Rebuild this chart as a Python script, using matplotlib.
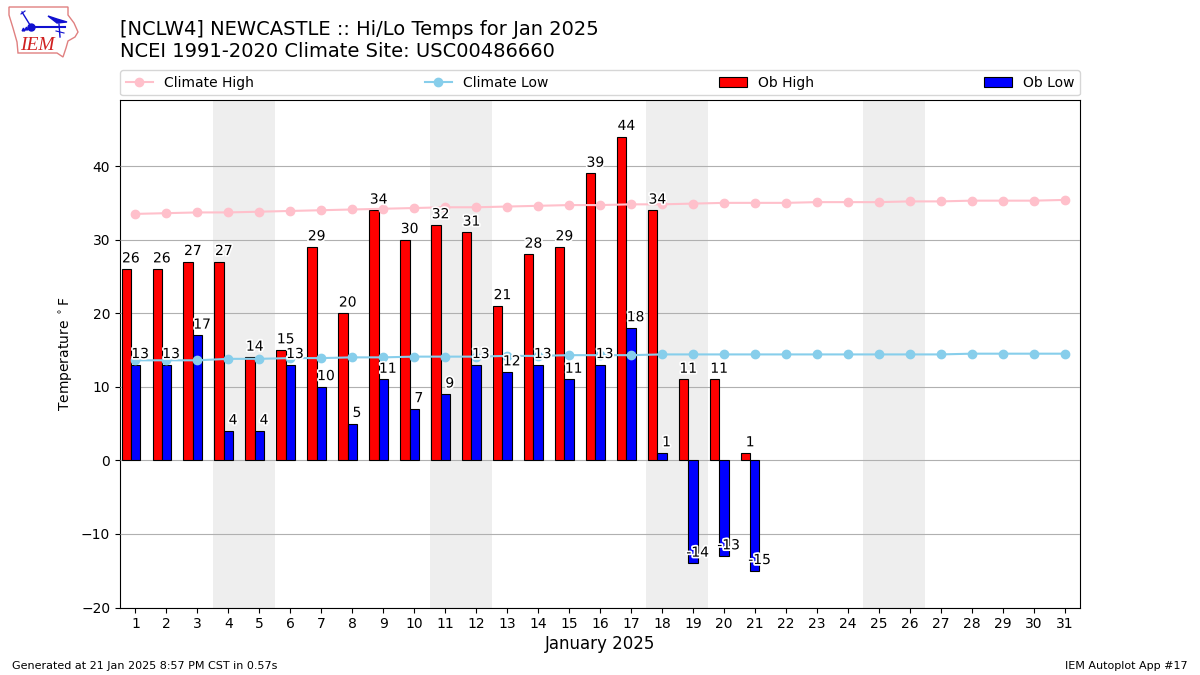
import matplotlib
matplotlib.use("Agg")
import matplotlib.pyplot as plt
import matplotlib.patheffects as PathEffects
import numpy as np

days = np.arange(1, 32)
ob_days = np.arange(1, 22)
ob_high = [26, 26, 27, 27, 14, 15, 29, 20, 34, 30, 32, 31, 21, 28, 29, 39, 44, 34, 11, 11, 1]
ob_low = [13, 13, 17, 4, 4, 13, 10, 5, 11, 7, 9, 13, 12, 13, 11, 13, 18, 1, -14, -13, -15]
climate_high = [33.5, 33.6, 33.7, 33.7, 33.8, 33.9, 34.0, 34.1, 34.2, 34.3, 34.4, 34.4, 34.5, 34.6, 34.7, 34.7,
                34.8, 34.8, 34.9, 35.0, 35.0, 35.0, 35.1, 35.1, 35.1, 35.2, 35.2, 35.3, 35.3, 35.3, 35.4]
climate_low = [13.6, 13.6, 13.6, 13.8, 13.8, 13.9, 13.9, 14.0, 14.0, 14.1, 14.1, 14.1, 14.2, 14.2, 14.3, 14.3,
               14.3, 14.4, 14.4, 14.4, 14.4, 14.4, 14.4, 14.4, 14.4, 14.4, 14.4, 14.5, 14.5, 14.5, 14.5]
weekends = [4, 11, 18, 25]

# logo shapes, in pixels from the top left of the figure
logo_outline_x = [9, 68, 68, 74, 78, 75, 68, 66, 63, 57, 18, 17, 13, 9]
logo_outline_y = [7, 7, 15, 23, 32, 37, 41, 48, 57, 53, 53, 42, 28, 15]
logo_wing_x = [48, 57, 67, 57]
logo_wing_y = [16, 19, 22, 23]

fig = plt.figure(figsize=(12, 6.75), dpi=100)
ax = fig.add_axes([120 / 1200, 1 - 607.5 / 675, 960 / 1200, 508 / 675])

for start in weekends:
    ax.axvspan(start - 0.5, start + 1.5, color="#eeeeee", lw=0, zorder=1)
ax.grid(True, axis="y", color="#b0b0b0", lw=0.8, zorder=2)
ax.set_axisbelow(False)

l1, = ax.plot(days, climate_high, color="pink", marker="o", label="Climate High", zorder=4)
l2, = ax.plot(days, climate_low, color="skyblue", marker="o", label="Climate Low", zorder=4)
b1 = ax.bar(ob_days - 0.3, ob_high, width=0.3, color="r", edgecolor="k", lw=0.8, label="Ob High", zorder=3)
b2 = ax.bar(ob_days, ob_low, width=0.3, color="b", edgecolor="k", lw=0.8, label="Ob Low", zorder=3)

outline = [PathEffects.withStroke(linewidth=2.5, foreground="white")]
for d, val in zip(ob_days, ob_high):
    ax.text(d - 0.15, val + 0.5, str(val), ha="center", va="bottom", fontsize=10,
            color="k", path_effects=outline, zorder=5)
for d, val in zip(ob_days, ob_low):
    ax.text(d + 0.15, val + 0.5, str(val), ha="center", va="bottom", fontsize=10,
            color="k", path_effects=outline, zorder=5)

ax.set_xlim(0.5, 31.5)
ax.set_ylim(-20, 49.05)
ax.set_xticks(days)
ax.set_yticks(np.arange(-20, 41, 10))
ax.tick_params(labelsize=10)
ax.set_xlabel("January 2025", fontsize=12, labelpad=3)
ax.set_ylabel(r"Temperature $^\circ$F", fontsize=10)
ax.legend(handles=[l1, l2, b1, b2], loc="lower left", bbox_to_anchor=(0, 1.008, 1, 0.05), mode="expand",
          ncol=4, borderaxespad=0, fontsize=10)

fig.text(120 / 1200, 1 - 61 / 675, "[NCLW4] NEWCASTLE :: Hi/Lo Temps for Jan 2025\nNCEI 1991-2020 Climate Site: USC00486660",
         fontsize=14, ha="left", va="bottom", linespacing=1.2)
fig.text(12 / 1200, 1 - 666 / 675, "Generated at 21 Jan 2025 8:57 PM CST in 0.57s", fontsize=8, ha="left", va="center")
fig.text(1188 / 1200, 1 - 666 / 675, "IEM Autoplot App #17", fontsize=8, ha="right", va="center")

# small logo in the corner
logo = fig.add_axes([0, 1 - 65 / 675, 90 / 1200, 65 / 675])
logo.set_xlim(0, 90)
logo.set_ylim(65, 0)
logo.axis("off")
logo.fill(logo_outline_x, logo_outline_y, facecolor="white", edgecolor="#e08080", lw=1)
logo.plot([31, 65], [27, 27], color="#1010d0", lw=1.5)
logo.plot([31], [27], "o", color="#1010d0", ms=5)
logo.plot([22, 30], [12, 25], color="#1010d0", lw=1)
logo.plot([21, 25], [14, 11], color="#1010d0", lw=0.8)
logo.plot([59, 60], [24, 37], color="#1010d0", lw=1)
logo.plot([56, 64], [31, 33], color="#1010d0", lw=0.8)
logo.plot([23, 26], [29, 28], "^", color="#1010d0", ms=2)
logo.fill(logo_wing_x, logo_wing_y, color="#1010d0")
logo.text(37, 45, "IEM", color="#d02020", fontsize=14, family="Liberation Serif", style="italic", ha="center", va="center")

fig.savefig("out.png", dpi=100)
